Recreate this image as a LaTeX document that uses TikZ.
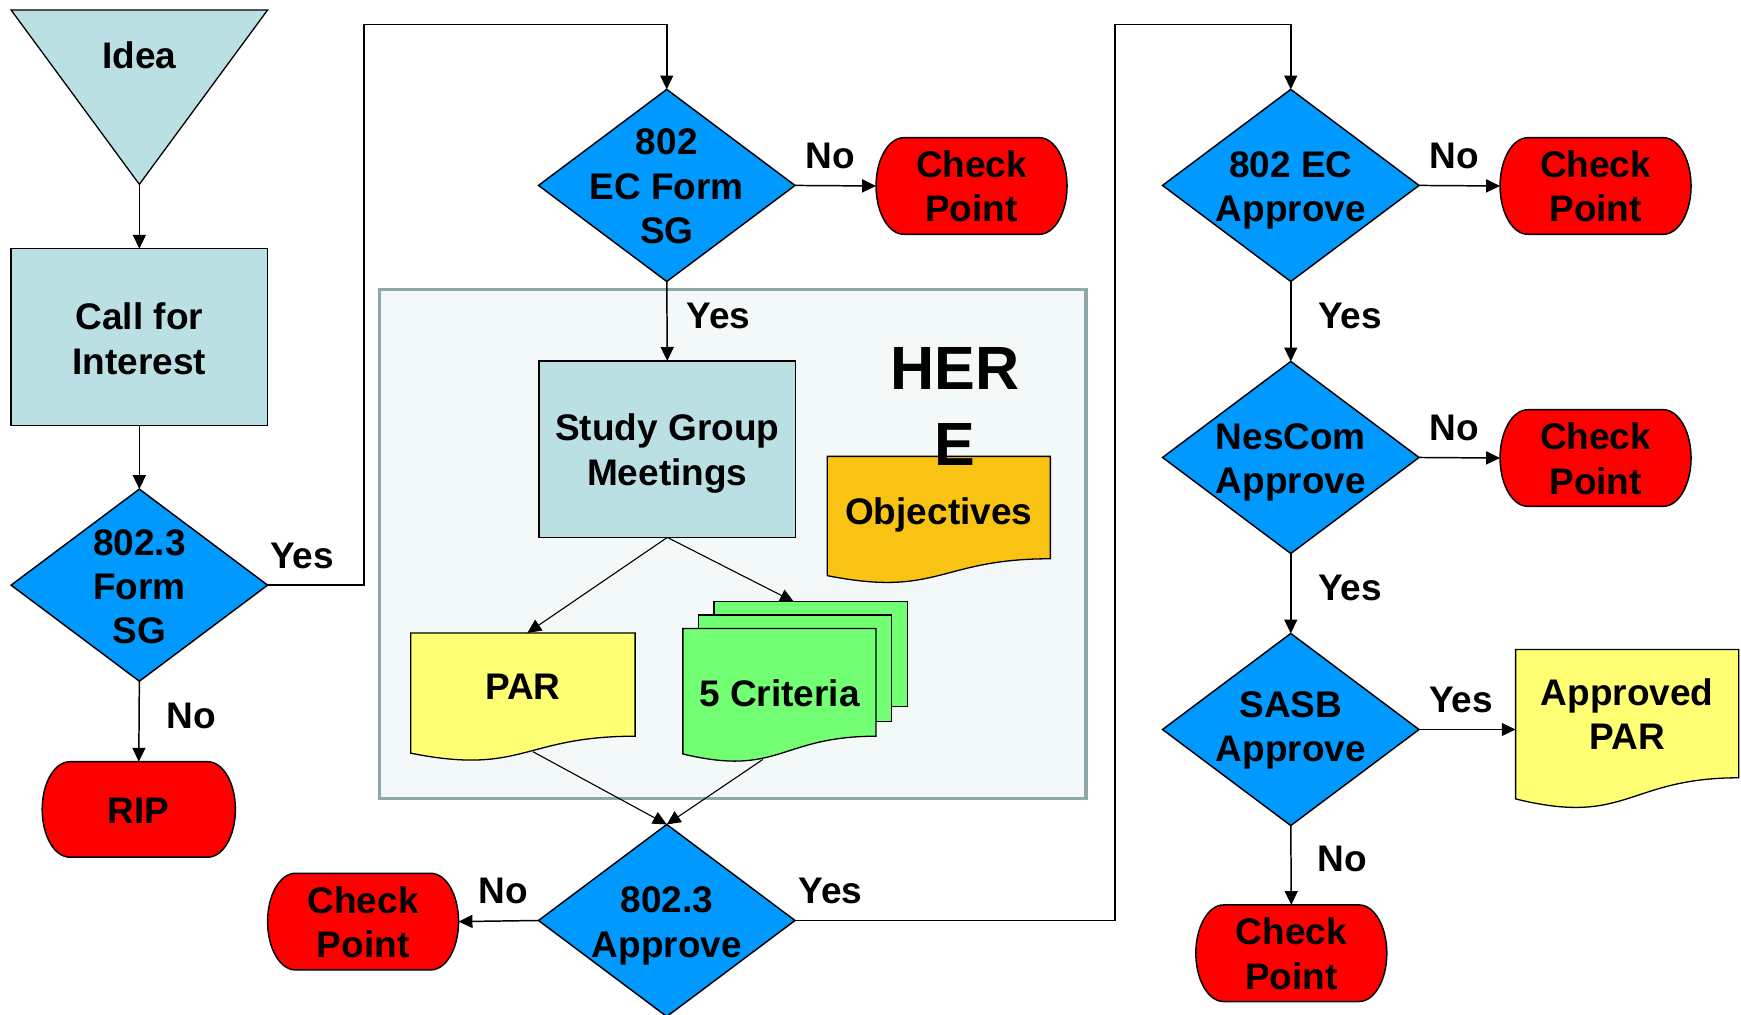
\documentclass[tikz,border=0pt]{standalone}
\usepackage{fontspec}
\setmainfont{Liberation Sans}
\usetikzlibrary{arrows.meta,shapes.geometric,calc}
\definecolor{cTeal}{HTML}{BAE0E3}
\definecolor{cBlue}{HTML}{0099FF}
\definecolor{cRed}{HTML}{FF0000}
\definecolor{cYellow}{HTML}{FFFF73}
\definecolor{cGreen}{HTML}{73FF73}
\definecolor{cOrange}{HTML}{F9C314}
\definecolor{cFrame}{HTML}{8EA8AA}
\definecolor{cFrameFill}{HTML}{F3F8F8}
\newcommand\docshape[5]{%
  \filldraw[fill=#5, draw=black, line width=0.7pt] (#1,#2) -- ({#1+#3},#2) -- ({#1+#3},{#2+0.802*#4})
  .. controls ({#1+0.5*#3},{#2+0.802*#4}) and ({#1+0.5*#3},{#2+1.1075*#4}) .. (#1,{#2+0.934*#4}) -- cycle;}
% terminal outline with elliptic ends around a named node
\newcommand\cpoutline[1]{%
  \filldraw[fill=cRed, draw=black, line width=0.8pt]
  ($(#1.north east)+(-15pt,0)$) .. controls ($(#1.north east)+(-6.7pt,0)$) and ($(#1.east)+(0,14.4pt)$) .. (#1.east)
  .. controls ($(#1.east)+(0,-14.4pt)$) and ($(#1.south east)+(-6.7pt,0)$) .. ($(#1.south east)+(-15pt,0)$)
  -- ($(#1.south west)+(15pt,0)$) .. controls ($(#1.south west)+(6.7pt,0)$) and ($(#1.west)+(0,-14.4pt)$) .. (#1.west)
  .. controls ($(#1.west)+(0,14.4pt)$) and ($(#1.north west)+(6.7pt,0)$) .. ($(#1.north west)+(15pt,0)$) -- cycle;}
\begin{document}
\begin{tikzpicture}[x=0.6pt,y=-0.6pt,
  font=\bfseries\fontsize{20}{24}\selectfont,
  >={Triangle[length=7.5pt,width=7pt]},
  line width=0.8pt,
  dia/.style={diamond, draw=black, fill=cBlue, minimum width=138.6pt, minimum height=103.8pt, inner sep=0pt, outer sep=0pt},
  txt/.style={align=center, inner sep=0pt, outer sep=0pt},
  cpbox/.style={rectangle, minimum width=103.2pt, minimum height=52.2pt, inner sep=0pt, outer sep=0pt},
  tbox/.style={rectangle, draw=black, fill=cTeal, align=center, inner sep=0pt, outer sep=0pt, minimum width=138.6pt, minimum height=95.4pt},
  lbl/.style={inner sep=0pt, anchor=base},
  conn/.style={->, line width=0.8pt}]
\useasboundingbox (0,0) rectangle (1568,914);
% HERE frame
\filldraw[fill=cFrameFill, draw=cFrame, line width=1.8pt] (342,261) rectangle (978,719);
% Idea triangle
\filldraw[fill=cTeal, draw=black, line width=0.7pt] (10,9) -- (241,9) -- (125.5,166) -- cycle;
\coordinate (apex) at (125.5,166);
\node[lbl] (idea) at (125.5,62) {Idea};
% left column
\node[tbox] (call) at (125.5,303.5) {};
\node[txt] (callt) at (125.5,305) {Call for\\Interest};
\node[dia] (fsg) at (125.5,527) {};
\node[txt] (fsgt) at (125.5,528.5) {802.3\\Form\\SG};
\node[cpbox, minimum width=104.4pt, minimum height=51.6pt] (rip) at (125,729) {};
\cpoutline{rip}
\node[lbl] (ript) at (125,742) {RIP};
% middle column
\node[dia] (ecsg) at (600.5,167) {};
\node[txt] (ecsgt) at (600.5,168) {802\\EC Form\\SG};
\node[cpbox] (cp1) at (875,167.5) {};
\cpoutline{cp1}
\node[txt] (cp1t) at (875,168) {Check\\Point};
\node[tbox] (sgm) at (601,404.5) {};
\node[txt] (sgmt) at (601,408.5) {Study Group\\Meetings};
% documents
\docshape{745}{411}{201}{115}{cOrange}
\node[lbl] (obj) at (845.5,472) {Objectives};
\docshape{370}{570}{202}{116}{cYellow}
\coordinate (partop) at (475,570);
\coordinate (parbot) at (480,677);
\node[lbl] (par) at (471,630) {PAR};
\filldraw[fill=cGreen, draw=black, line width=0.7pt] (643,542) rectangle (817,636);
\filldraw[fill=cGreen, draw=black, line width=0.7pt] (629,554) rectangle (803,650);
\docshape{615}{566}{174}{121}{cGreen}
\coordinate (crittop) at (715,542);
\coordinate (critbot) at (687,684);
\node[lbl] (crit) at (702,636) {5 Criteria};
\node[txt, font=\bfseries\fontsize{33}{41}\selectfont] (here) at (860,366) {HER\\E};
\node[dia] (appr) at (600.5,829) {};
\node[txt] (apprt) at (600.5,834) {802.3\\Approve};
\node[cpbox] (cp3) at (327,830) {};
\cpoutline{cp3}
\node[txt] (cp3t) at (327,830.5) {Check\\Point};
% right column
\node[dia] (eca) at (1162.5,167) {};
\node[txt] (ecat) at (1162.5,171.5) {802 EC\\Approve};
\node[cpbox] (cp4) at (1437,167.5) {};
\cpoutline{cp4}
\node[txt] (cp4t) at (1437,168) {Check\\Point};
\node[dia] (nes) at (1162.5,412) {};
\node[txt] (nest) at (1162.5,416.5) {NesCom\\Approve};
\node[cpbox] (cp5) at (1437,412.5) {};
\cpoutline{cp5}
\node[txt] (cp5t) at (1437,413) {Check\\Point};
\node[dia] (sasb) at (1162.5,657) {};
\node[txt] (sasbt) at (1162.5,658) {SASB\\Approve};
\docshape{1365}{585}{201}{144}{cYellow}
\coordinate (apartop) at (1365,657);
\node[txt] (apar) at (1465.5,643) {Approved\\PAR};
\node[cpbox] (cp6) at (1163,858.5) {};
\cpoutline{cp6}
\node[txt] (cp6t) at (1163,859) {Check\\Point};
% connectors
\draw[conn] (apex) -- (call.north);
\draw[conn] (call.south) -- (fsg.north);
\draw[conn] (fsg.south) -- (rip.north);
\node[lbl] (no1) at (172,656) {No};
\coordinate (b1) at (328,527);
\coordinate (b2) at (328,22);
\coordinate (b3) at (600.5,22);
\draw[conn] (fsg.east) -- (b1) -- (b2) -- (b3) -- (ecsg.north);
\node[lbl] (yes1) at (272,512) {Yes};
\draw[conn] (ecsg.east) -- (cp1.west);
\node[lbl] (no2) at (748,152) {No};
\draw[conn] (ecsg.south) -- (sgm.north);
\node[lbl] (yes2) at (647,296) {Yes};
\draw[conn, line width=0.6pt] (sgm.south) -- (partop);
\draw[conn, line width=0.6pt] (sgm.south) -- (crittop);
\draw[conn, line width=0.6pt] (parbot) -- (appr.north);
\draw[conn, line width=0.6pt] (critbot) -- (appr.north);
\draw[conn] (appr.west) -- (cp3.east);
\node[lbl] (no3) at (453,814) {No};
\coordinate (c1) at (1004,829);
\coordinate (c2) at (1004,22);
\coordinate (c3) at (1162.5,22);
\draw[conn] (appr.east) -- (c1) -- (c2) -- (c3) -- (eca.north);
\node[lbl] (yes3) at (748,814) {Yes};
\draw[conn] (eca.east) -- (cp4.west);
\node[lbl] (no4) at (1310,152) {No};
\draw[conn] (eca.south) -- (nes.north);
\node[lbl] (yes4) at (1216,296) {Yes};
\draw[conn] (nes.east) -- (cp5.west);
\node[lbl] (no5) at (1310,397) {No};
\draw[conn] (nes.south) -- (sasb.north);
\node[lbl] (yes5) at (1216,541) {Yes};
\draw[conn] (sasb.east) -- (apartop);
\node[lbl] (yes6) at (1316,642) {Yes};
\draw[conn] (sasb.south) -- (cp6.north);
\node[lbl] (no6) at (1209,785) {No};
\end{tikzpicture}
\end{document}
